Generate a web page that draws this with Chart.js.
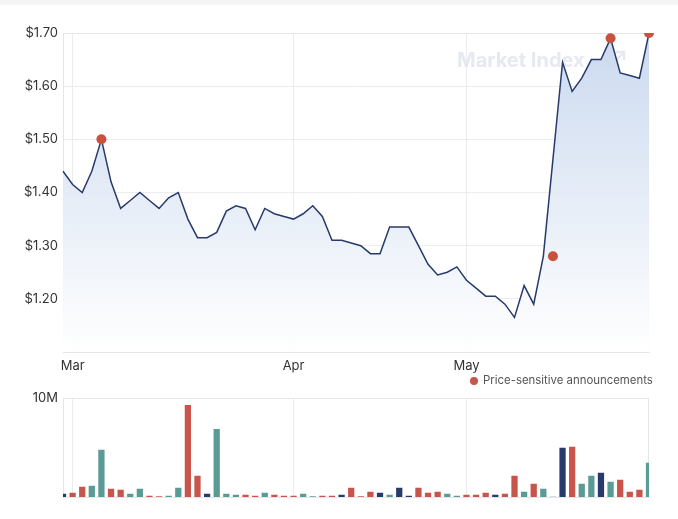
<!DOCTYPE html>
<html>
<head>
<meta charset="utf-8">
<script src="https://cdn.jsdelivr.net/npm/chart.js@4.4.1/dist/chart.umd.min.js"></script>
<style>
  html, body { margin: 0; padding: 0; background: #fff; }
  body { width: 678px; height: 519px; position: relative; overflow: hidden; font-family: Inter, "Noto Sans", sans-serif; }
  .strip { position: absolute; left: 0; top: 0; width: 678px; height: 5px; background: #f5f5f6; }
  #priceWrap { position: absolute; left: 0; top: 0; width: 678px; height: 392px; }
  #volWrap { position: absolute; left: 0; top: 385px; width: 678px; height: 134px; }
</style>
</head>
<body>
<div class="strip"></div>
<div id="priceWrap"><canvas id="price"></canvas></div>
<div id="volWrap"><canvas id="volume"></canvas></div>
<script>
// one label per trading day, month name on the first trading day of each month
const labels = [
  "", "Mar", "", "", "", "", "", "", "", "", "", "", "", "", "", "", "", "", "", "", "", "", "", "",
  "Apr", "", "", "", "", "", "", "", "", "", "", "", "", "", "", "", "", "",
  "May", "", "", "", "", "", "", "", "", "", "", "", "", "", "", "", "", "", "", ""
];

// closing price (null = trading halt)
const closePrice = [
  1.44, 1.415, 1.40, 1.44, 1.50, 1.42, 1.37, 1.385, 1.40, 1.385,
  1.37, 1.39, 1.40, 1.35, 1.315, 1.315, 1.325, 1.365, 1.375, 1.37,
  1.33, 1.37, 1.36, 1.355, 1.35, 1.36, 1.375, 1.355, 1.31, 1.31,
  1.305, 1.30, 1.285, 1.285, 1.335, 1.335, 1.335, 1.30, 1.265, 1.245,
  1.25, 1.26, 1.235, 1.22, 1.205, 1.205, 1.19, 1.165, 1.225, 1.19,
  1.28, null, 1.645, 1.59, 1.615, 1.65, 1.65, 1.69, 1.625, 1.62,
  1.615, 1.70
];

// daily volume, millions of shares
const volumeM = [
  0.44, 0.54, 1.14, 1.24, 4.87, 0.94, 0.84, 0.44, 0.94, 0.23,
  0.13, 0.23, 1.04, 9.40, 2.25, 0.44, 6.98, 0.44, 0.34, 0.34,
  0.23, 0.54, 0.34, 0.23, 0.23, 0.44, 0.13, 0.23, 0.23, 0.34,
  1.04, 0.13, 0.64, 0.54, 0.34, 1.04, 0.23, 1.04, 0.54, 0.64,
  0.44, 0.23, 0.34, 0.34, 0.54, 0.34, 0.44, 2.25, 0.64, 1.44,
  0.94, 0.07, 5.07, 5.17, 1.44, 2.25, 2.55, 1.64, 1.85, 0.64,
  0.84, 3.56
];

// price-sensitive announcements: day index and price shown
const announcementIdx = [4, 51, 57, 61];
const announcementPrice = [1.50, 1.28, 1.69, 1.70];

const priceTicks = [1.20, 1.30, 1.40, 1.50, 1.60, 1.70];

const RED = "#c8554b";
const TEAL = "#5b9b95";
const NAVY = "#283a6b";
const GRID = "#ececef";
const TICK_FONT = { family: "Inter, 'Noto Sans', sans-serif", size: 13 };

const announcementData = labels.map(() => null);
announcementIdx.forEach((idx, i) => { announcementData[idx] = announcementPrice[i]; });

// bar colour from the move against the previous close
const barColors = volumeM.map((_, i) => {
  const prev = i > 0 ? closePrice[i - 1] : null;
  const cur = closePrice[i];
  if (prev == null || cur == null || prev === cur) return NAVY;
  return cur > prev ? TEAL : RED;
});

const monthGrid = (ctx) => (ctx.tick && ctx.tick.label ? GRID : "transparent");

// draws the box round the plot area
const framePlugin = {
  id: "frame",
  beforeDatasetsDraw(chart) {
    const { ctx, chartArea: a } = chart;
    ctx.save();
    ctx.strokeStyle = "#e6e6e9";
    ctx.lineWidth = 1;
    ctx.strokeRect(a.left + 0.5, a.top + 0.5, a.right - a.left - 1, a.bottom - a.top);
    ctx.restore();
  }
};

// faint brand watermark behind the price line
const watermarkPlugin = {
  id: "watermark",
  beforeDatasetsDraw(chart) {
    const ctx = chart.ctx;
    ctx.save();
    ctx.fillStyle = "rgba(222,225,236,0.75)";
    ctx.strokeStyle = "rgba(222,225,236,0.75)";
    ctx.font = "bold 20px Inter, 'Noto Sans', sans-serif";
    ctx.textBaseline = "middle";
    ctx.fillText("Market Index", 457, 61);
    ctx.lineWidth = 2.5;
    ctx.beginPath();
    ctx.moveTo(604, 58);
    ctx.lineTo(611, 66);
    ctx.lineTo(624, 52);
    ctx.moveTo(616, 52);
    ctx.lineTo(624, 52);
    ctx.lineTo(624, 60);
    ctx.stroke();
    ctx.restore();
  }
};

const legendPlugin = {
  id: "announceLegend",
  afterDraw(chart) {
    const ctx = chart.ctx;
    ctx.save();
    ctx.fillStyle = RED;
    ctx.beginPath();
    ctx.arc(474, 381, 4, 0, Math.PI * 2);
    ctx.fill();
    ctx.fillStyle = "#555";
    ctx.font = "11.4px Inter, 'Noto Sans', sans-serif";
    ctx.textBaseline = "middle";
    ctx.fillText("Price-sensitive announcements", 483, 381);
    ctx.restore();
  }
};

new Chart(document.getElementById("price"), {
  type: "line",
  data: {
    labels: labels,
    datasets: [
      {
        label: "Price-sensitive announcements",
        data: announcementData,
        showLine: false,
        pointRadius: 5,
        pointHoverRadius: 5,
        pointBackgroundColor: "#c9513f",
        pointBorderWidth: 0
      },
      {
        label: "Close",
        data: closePrice,
        borderColor: NAVY,
        borderWidth: 1.5,
        pointRadius: 0,
        tension: 0,
        spanGaps: true,
        fill: "start",
        backgroundColor: (ctx) => {
          const a = ctx.chart.chartArea;
          if (!a) return "rgba(205,219,240,0.8)";
          const g = ctx.chart.ctx.createLinearGradient(0, a.top, 0, a.bottom);
          g.addColorStop(0, "rgba(200,215,238,0.95)");
          g.addColorStop(1, "rgba(255,255,255,0.95)");
          return g;
        }
      }
    ]
  },
  options: {
    responsive: true,
    maintainAspectRatio: false,
    animation: false,
    layout: { padding: { left: 0, right: 29, top: 33, bottom: 18 } },
    plugins: { legend: { display: false }, tooltip: { enabled: false } },
    scales: {
      x: {
        offset: false,
        border: { display: true, color: "#e6e6e9" },
        grid: { color: monthGrid, drawTicks: false },
        ticks: { autoSkip: false, maxRotation: 0, padding: 6, color: "#333", font: TICK_FONT },
        afterFit: (s) => { s.height = 22; }
      },
      y: {
        min: 1.10,
        max: 1.70,
        border: { display: true, color: "#e6e6e9" },
        grid: { color: GRID, drawTicks: false },
        afterBuildTicks: (s) => { s.ticks = priceTicks.map((v) => ({ value: v })); },
        ticks: { padding: 5, color: "#333", font: TICK_FONT, callback: (v) => "$" + Number(v).toFixed(2) },
        afterFit: (s) => { s.width = 63; }
      }
    }
  },
  plugins: [watermarkPlugin, framePlugin, legendPlugin]
});

new Chart(document.getElementById("volume"), {
  type: "bar",
  data: {
    labels: labels,
    datasets: [{
      label: "Volume",
      data: volumeM.map((v) => v * 1e6),
      backgroundColor: barColors,
      borderColor: "rgba(255,255,255,0.45)",
      borderWidth: 1,
      categoryPercentage: 1,
      barPercentage: 0.86
    }]
  },
  options: {
    responsive: true,
    maintainAspectRatio: false,
    animation: false,
    layout: { padding: { left: 0, right: 29, top: 13, bottom: 22 } },
    plugins: { legend: { display: false }, tooltip: { enabled: false } },
    scales: {
      x: {
        offset: false,
        border: { display: true, color: "#e6e6e9" },
        grid: { color: monthGrid, drawTicks: false, offset: false },
        ticks: { display: false, autoSkip: false },
        afterFit: (s) => { s.height = 0; }
      },
      y: {
        min: 0,
        max: 10000000,
        border: { display: true, color: "#e6e6e9" },
        grid: { color: GRID, drawTicks: false },
        afterBuildTicks: (s) => { s.ticks = [{ value: 10000000 }]; },
        ticks: { padding: 5, color: "#333", font: TICK_FONT, callback: (v) => (v / 1e6) + "M" },
        afterFit: (s) => { s.width = 63; }
      }
    }
  },
  plugins: [framePlugin]
});
</script>
</body>
</html>
